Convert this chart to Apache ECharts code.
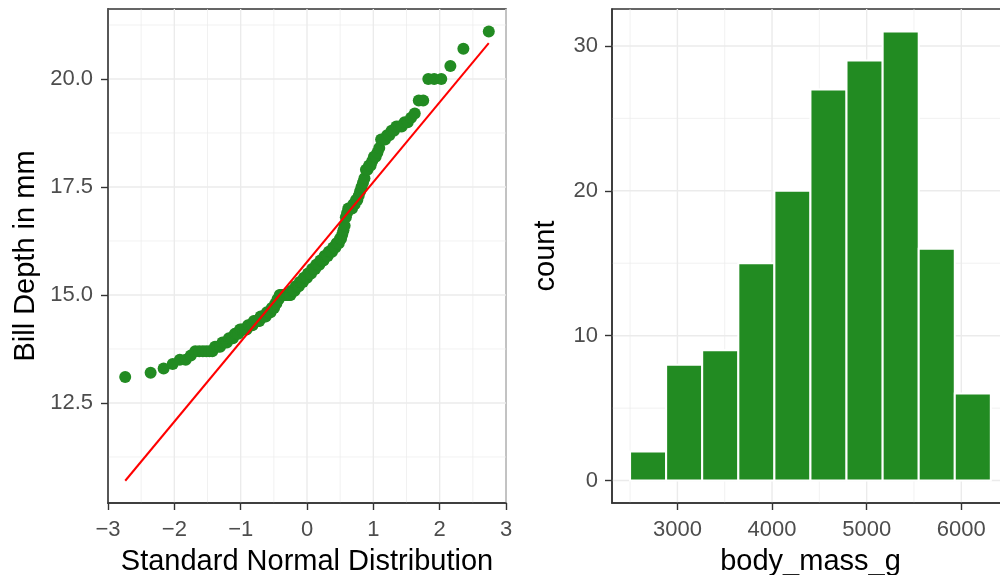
<!DOCTYPE html>
<html>
<head>
<meta charset="utf-8">
<script src="https://cdn.jsdelivr.net/npm/echarts@6/dist/echarts.min.js"></script>
<style>
  html, body { margin: 0; padding: 0; background: #ffffff; }
  #chart { width: 1000px; height: 575px; }
</style>
</head>
<body>
<div id="chart"></div>
<script>
// Bill depth sample (mm), sorted ascending
const billDepth = [
  13.1, 13.2, 13.3, 13.4, 13.5, 13.5, 13.6,
  13.7, 13.7, 13.7, 13.7, 13.7, 13.7, 13.8, 13.8, 13.8, 13.9, 13.9, 13.9,
  14.0, 14.0, 14.0, 14.1, 14.1, 14.1, 14.2, 14.2, 14.2, 14.2, 14.2,
  14.3, 14.3, 14.3, 14.3, 14.4, 14.4, 14.4, 14.4, 14.4, 14.5, 14.5, 14.5, 14.5, 14.5,
  14.6, 14.6, 14.6, 14.6, 14.7, 14.7, 14.7, 14.8, 14.8, 14.9, 14.9,
  15.0, 15.0, 15.0, 15.0, 15.0, 15.0, 15.0, 15.0, 15.0, 15.0, 15.0,
  15.1, 15.1, 15.1, 15.1, 15.2, 15.2, 15.2, 15.2, 15.3, 15.3, 15.3, 15.3, 15.4, 15.4, 15.4, 15.4,
  15.5, 15.5, 15.5, 15.5, 15.6, 15.6, 15.6, 15.6, 15.7, 15.7, 15.7, 15.7, 15.8, 15.8, 15.8, 15.8,
  15.9, 15.9, 15.9, 15.9, 16.0, 16.0, 16.0, 16.0, 16.1, 16.1, 16.1, 16.2, 16.2, 16.2, 16.3, 16.3,
  16.4, 16.5, 16.6, 16.8, 16.9, 17.0, 17.0, 17.0, 17.0, 17.1, 17.1, 17.2, 17.2,
  17.3, 17.4, 17.5, 17.6, 17.7, 17.9, 17.9, 18.0, 18.0, 18.1, 18.2, 18.2, 18.3, 18.4,
  18.6, 18.6, 18.6, 18.7, 18.7, 18.8, 18.8, 18.9, 18.9, 18.9, 19.0, 19.0, 19.1, 19.2,
  19.5, 19.5, 20.0, 20.0, 20.0, 20.3, 20.7, 21.1
];

// Normal reference line (through the quartiles), given by its two end points
const qqLineX = [-2.74, 2.74];
const qqLineY = [10.70, 20.83];

// Body mass histogram: bin edges (g) and counts
const binEdges = [2500, 2881, 3262, 3644, 4025, 4406, 4787, 5169, 5550, 5931, 6312];
const binCounts = [2, 8, 9, 15, 20, 27, 29, 31, 16, 6];

// Axis ticks and grid positions
const qqXMajor = [-3, -2, -1, 0, 1, 2, 3];
const qqXMinor = [-2.5, -1.5, -0.5, 0.5, 1.5, 2.5];
const qqYMajor = [12.5, 15, 17.5, 20];
const qqYMinor = [11.25, 13.75, 16.25, 18.75, 21.25];
const massMajor = [3000, 4000, 5000, 6000];
const massMinor = [2500, 3500, 4500, 5500, 6500];
const countMajor = [0, 10, 20, 30];
const countMinor = [5, 15, 25];

// Axis ranges
const qqXRange = [-3, 3];
const qqYRange = [10.185, 21.62];
const massRange = [2309, 6504];
const countRange = [-1.55, 32.55];

const FONT = '"Liberation Sans", Arial, Helvetica, sans-serif';
const GREEN = '#228B22';
const BORDER = '#333333';
const GRID = '#EBEBEB';
const TICK_TEXT = '#4D4D4D';

// Inverse standard normal CDF (Acklam's rational approximation)
function qnorm(p) {
  const a = [-3.969683028665376e+01, 2.209460984245205e+02, -2.759285104469687e+02,
             1.383577518672690e+02, -3.066479806614716e+01, 2.506628277459239e+00];
  const b = [-5.447609879822406e+01, 1.615858368580409e+02, -1.556989798598866e+02,
             6.680131188771972e+01, -1.328068155288572e+01];
  const c = [-7.784894002430293e-03, -3.223964580411365e-01, -2.400758277161838e+00,
             -2.549732539343734e+00, 4.374664141464968e+00, 2.938163982698783e+00];
  const d = [7.784695709041462e-03, 3.224671290700398e-01, 2.445134137142996e+00,
             3.754408661907416e+00];
  const pl = 0.02425, ph = 1 - pl;
  let q, r;
  if (p < pl) {
    q = Math.sqrt(-2 * Math.log(p));
    return (((((c[0]*q+c[1])*q+c[2])*q+c[3])*q+c[4])*q+c[5]) / ((((d[0]*q+d[1])*q+d[2])*q+d[3])*q+1);
  }
  if (p > ph) {
    q = Math.sqrt(-2 * Math.log(1 - p));
    return -(((((c[0]*q+c[1])*q+c[2])*q+c[3])*q+c[4])*q+c[5]) / ((((d[0]*q+d[1])*q+d[2])*q+d[3])*q+1);
  }
  q = p - 0.5; r = q * q;
  return (((((a[0]*r+a[1])*r+a[2])*r+a[3])*r+a[4])*r+a[5])*q / (((((b[0]*r+b[1])*r+b[2])*r+b[3])*r+b[4])*r+1);
}

// Theoretical quantiles for plotting positions (i - 0.5) / n
const n = billDepth.length;
const qqPoints = billDepth.map((v, i) => [qnorm((i + 0.5) / n), v]);

// Panel grid lines drawn as a custom series behind the marks
function gridSeries(idx, xRange, yRange, vMajor, vMinor, hMajor, hMinor) {
  const data = [];
  vMinor.forEach(v => data.push([v, 0, 1]));
  hMinor.forEach(v => data.push([v, 0, 0]));
  vMajor.forEach(v => data.push([v, 1, 1]));
  hMajor.forEach(v => data.push([v, 1, 0]));
  return {
    type: 'custom',
    xAxisIndex: idx, yAxisIndex: idx,
    silent: true, z: 0,
    data: data,
    renderItem: function (params, api) {
      const v = api.value(0), major = api.value(1), vertical = api.value(2);
      const cs = params.coordSys;
      let shape;
      if (vertical) {
        const px = api.coord([v, yRange[0]])[0];
        shape = { x1: px, y1: cs.y, x2: px, y2: cs.y + cs.height };
      } else {
        const py = api.coord([xRange[0], v])[1];
        shape = { x1: cs.x, y1: py, x2: cs.x + cs.width, y2: py };
      }
      return { type: 'line', shape: shape, style: { stroke: GRID, lineWidth: major ? 1.4 : 0.7 } };
    }
  };
}

function valueAxis(idx, range, ticks, fmt, name, gap, labelMargin) {
  return {
    type: 'value', gridIndex: idx,
    min: range[0], max: range[1],
    splitLine: { show: false },
    axisLine: { show: true, onZero: false, lineStyle: { color: BORDER, width: 1.5 } },
    axisTick: { show: true, length: 7, customValues: ticks, lineStyle: { color: BORDER, width: 1.4 } },
    axisLabel: { customValues: ticks, formatter: fmt, color: TICK_TEXT, fontSize: 22, fontFamily: FONT, margin: labelMargin },
    name: name, nameLocation: 'middle', nameGap: gap,
    nameTextStyle: { color: '#000000', fontSize: 29, fontFamily: FONT }
  };
}

const minusFmt = v => (v < 0 ? '\u2212' + Math.abs(v) : String(v));

const panel = { top: 9, width: 398, height: 494, show: true, borderColor: BORDER, borderWidth: 1.5,
                backgroundColor: 'transparent', containLabel: false, outerBoundsMode: 'none' };

const chart = echarts.init(document.getElementById('chart'), null, { renderer: 'canvas' });
chart.setOption({
  animation: false,
  backgroundColor: '#ffffff',
  grid: [
    Object.assign({}, panel, { left: 108 }),
    Object.assign({}, panel, { left: 612, width: 397 })
  ],
  xAxis: [
    valueAxis(0, qqXRange, qqXMajor, minusFmt, 'Standard Normal Distribution', 44, 16),
    valueAxis(1, massRange, massMajor, v => String(v), 'body_mass_g', 44, 16)
  ],
  yAxis: [
    valueAxis(0, qqYRange, qqYMajor, v => v.toFixed(1), 'Bill Depth in mm', 68, 15),
    valueAxis(1, countRange, countMajor, v => String(v), 'count', 52, 14)
  ],
  series: [
    gridSeries(0, qqXRange, qqYRange, qqXMajor, qqXMinor, qqYMajor, qqYMinor),
    gridSeries(1, massRange, countRange, massMajor, massMinor, countMajor, countMinor),
    {
      type: 'scatter', xAxisIndex: 0, yAxisIndex: 0, z: 3,
      symbol: 'circle', symbolSize: 12,
      itemStyle: { color: GREEN, opacity: 1 },
      data: qqPoints
    },
    {
      type: 'line', xAxisIndex: 0, yAxisIndex: 0, z: 4,
      showSymbol: false, symbol: 'none',
      lineStyle: { color: '#FF0000', width: 2 },
      data: qqLineX.map((x, i) => [x, qqLineY[i]])
    },
    {
      type: 'custom', xAxisIndex: 1, yAxisIndex: 1, z: 3,
      data: binCounts.map((c, i) => [binEdges[i], binEdges[i + 1], c]),
      encode: { x: [0, 1], y: 2 },
      renderItem: function (params, api) {
        const p0 = api.coord([api.value(0), api.value(2)]);
        const p1 = api.coord([api.value(1), 0]);
        return {
          type: 'rect',
          shape: { x: p0[0], y: p0[1], width: p1[0] - p0[0], height: p1[1] - p0[1] },
          style: { fill: GREEN, stroke: '#ffffff', lineWidth: 2 }
        };
      }
    }
  ]
});
</script>
</body>
</html>
